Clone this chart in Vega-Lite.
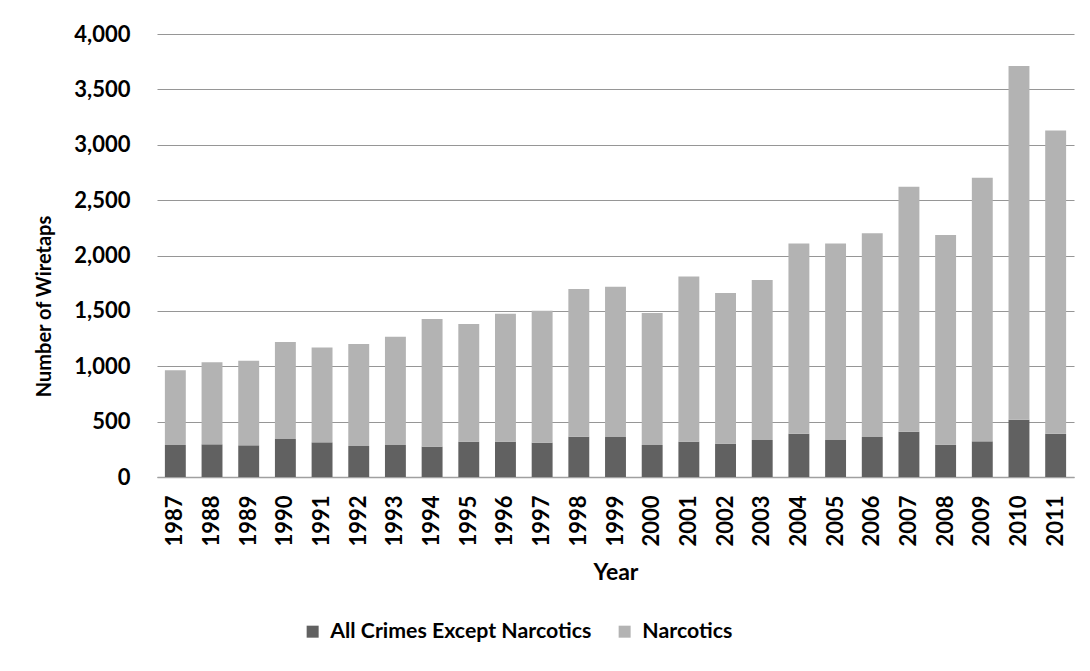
{
  "$schema": "https://vega.github.io/schema/vega-lite/v6.json",
  "autosize": "none",
  "width": 917,
  "height": 443,
  "padding": {"left": 157, "top": 34, "right": 16, "bottom": 194},
  "background": "white",
  "config": {
    "view": {"stroke": null},
    "font": "Lato",
    "axis": {"labelFont": "Lato", "titleFont": "Lato", "labelColor": "#000000", "titleColor": "#000000"},
    "legend": {"labelFont": "Lato", "labelColor": "#000000"}
  },
  "data": {
    "values": [
      {"year": "1987", "category": "All Crimes Except Narcotics", "count": 289},
      {"year": "1987", "category": "Narcotics", "count": 674},
      {"year": "1988", "category": "All Crimes Except Narcotics", "count": 295},
      {"year": "1988", "category": "Narcotics", "count": 740},
      {"year": "1989", "category": "All Crimes Except Narcotics", "count": 286},
      {"year": "1989", "category": "Narcotics", "count": 764},
      {"year": "1990", "category": "All Crimes Except Narcotics", "count": 343},
      {"year": "1990", "category": "Narcotics", "count": 875},
      {"year": "1991", "category": "All Crimes Except Narcotics", "count": 313},
      {"year": "1991", "category": "Narcotics", "count": 857},
      {"year": "1992", "category": "All Crimes Except Narcotics", "count": 280},
      {"year": "1992", "category": "Narcotics", "count": 920},
      {"year": "1993", "category": "All Crimes Except Narcotics", "count": 289},
      {"year": "1993", "category": "Narcotics", "count": 977},
      {"year": "1994", "category": "All Crimes Except Narcotics", "count": 274},
      {"year": "1994", "category": "Narcotics", "count": 1152},
      {"year": "1995", "category": "All Crimes Except Narcotics", "count": 319},
      {"year": "1995", "category": "Narcotics", "count": 1062},
      {"year": "1996", "category": "All Crimes Except Narcotics", "count": 319},
      {"year": "1996", "category": "Narcotics", "count": 1155},
      {"year": "1997", "category": "All Crimes Except Narcotics", "count": 310},
      {"year": "1997", "category": "Narcotics", "count": 1191},
      {"year": "1998", "category": "All Crimes Except Narcotics", "count": 364},
      {"year": "1998", "category": "Narcotics", "count": 1333},
      {"year": "1999", "category": "All Crimes Except Narcotics", "count": 361},
      {"year": "1999", "category": "Narcotics", "count": 1357},
      {"year": "2000", "category": "All Crimes Except Narcotics", "count": 289},
      {"year": "2000", "category": "Narcotics", "count": 1191},
      {"year": "2001", "category": "All Crimes Except Narcotics", "count": 319},
      {"year": "2001", "category": "Narcotics", "count": 1492},
      {"year": "2002", "category": "All Crimes Except Narcotics", "count": 301},
      {"year": "2002", "category": "Narcotics", "count": 1360},
      {"year": "2003", "category": "All Crimes Except Narcotics", "count": 334},
      {"year": "2003", "category": "Narcotics", "count": 1444},
      {"year": "2004", "category": "All Crimes Except Narcotics", "count": 391},
      {"year": "2004", "category": "Narcotics", "count": 1718},
      {"year": "2005", "category": "All Crimes Except Narcotics", "count": 334},
      {"year": "2005", "category": "Narcotics", "count": 1775},
      {"year": "2006", "category": "All Crimes Except Narcotics", "count": 361},
      {"year": "2006", "category": "Narcotics", "count": 1841},
      {"year": "2007", "category": "All Crimes Except Narcotics", "count": 409},
      {"year": "2007", "category": "Narcotics", "count": 2211},
      {"year": "2008", "category": "All Crimes Except Narcotics", "count": 292},
      {"year": "2008", "category": "Narcotics", "count": 1892},
      {"year": "2009", "category": "All Crimes Except Narcotics", "count": 322},
      {"year": "2009", "category": "Narcotics", "count": 2379},
      {"year": "2010", "category": "All Crimes Except Narcotics", "count": 517},
      {"year": "2010", "category": "Narcotics", "count": 3195},
      {"year": "2011", "category": "All Crimes Except Narcotics", "count": 391},
      {"year": "2011", "category": "Narcotics", "count": 2738}
    ]
  },
  "mark": {"type": "bar"},
  "encoding": {
    "x": {
      "field": "year",
      "type": "ordinal",
      "scale": {"paddingInner": 0.43, "paddingOuter": 0.215},
      "axis": {
        "title": "Year",
        "titleFontSize": 23,
        "titleFontWeight": "bold",
        "titleY": 84,
        "titleBaseline": "top",
        "labelAngle": -90,
        "labelFontSize": 22,
        "labelFontWeight": "bold",
        "labelPadding": 18,
        "ticks": false,
        "domainColor": "#a0a0a0",
        "domainWidth": 1.5,
        "grid": false
      }
    },
    "y": {
      "field": "count",
      "type": "quantitative",
      "stack": "zero",
      "scale": {"domain": [0, 4000], "nice": false},
      "axis": {
        "title": "Number of Wiretaps",
        "titleFontSize": 20,
        "titleFontWeight": "bold",
        "titleX": -103,
        "titleY": 272,
        "values": [0, 500, 1000, 1500, 2000, 2500, 3000, 3500, 4000],
        "format": ",d",
        "labelFontSize": 22,
        "labelFontWeight": "bold",
        "labelPadding": 27,
        "ticks": false,
        "domain": false,
        "grid": true,
        "gridColor": "#969696",
        "gridWidth": 1.2
      }
    },
    "color": {
      "field": "category",
      "type": "nominal",
      "scale": {"domain": ["All Crimes Except Narcotics", "Narcotics"], "range": ["#616161", "#b3b3b3"]},
      "legend": {
        "title": null,
        "orient": "none",
        "direction": "horizontal",
        "legendX": 145,
        "legendY": 587,
        "symbolType": "square",
        "symbolSize": 144,
        "symbolStrokeWidth": 0,
        "labelFontSize": 21.3,
        "labelFontWeight": "bold",
        "labelOffset": 7,
        "columnPadding": 22,
        "labelLimit": 400
      }
    },
    "order": {"field": "category", "sort": "ascending"}
  }
}
